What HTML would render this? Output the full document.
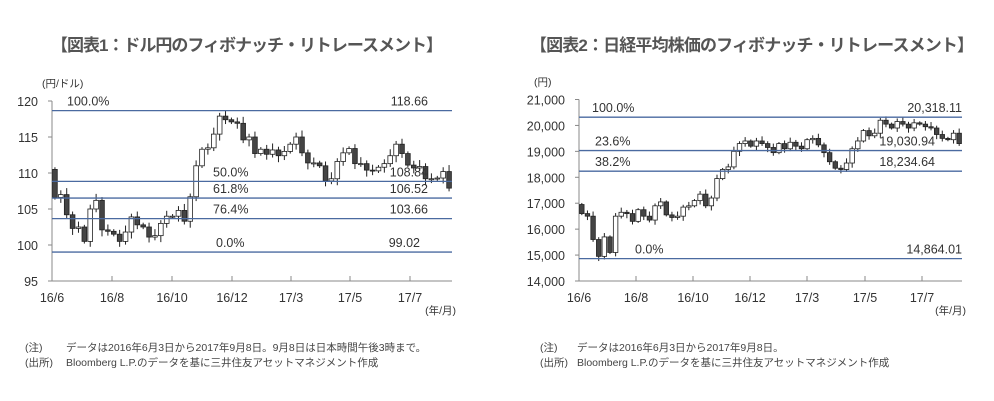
<!DOCTYPE html>
<html><head><meta charset="utf-8"><style>
body{margin:0;background:#fff;}
svg{display:block;font-family:"Liberation Sans","Noto Sans CJK JP",sans-serif;}
</style></head><body>
<svg id="s" width="994" height="401" xmlns="http://www.w3.org/2000/svg">
<rect width="994" height="401" fill="#fff"/>
<text x="247" y="51" font-size="17" font-weight="bold" fill="#555" text-anchor="middle" textLength="392">【図表1：ドル円のフィボナッチ・リトレースメント】</text>
<text x="752" y="51" font-size="17" font-weight="bold" fill="#555" text-anchor="middle" textLength="444">【図表2：日経平均株価のフィボナッチ・リトレースメント】</text>
<g font-size="10.5" fill="#444">
<text x="25" y="351">(注)</text><text x="66" y="351">データは2016年6月3日から2017年9月8日。9月8日は日本時間午後3時まで。</text>
<text x="25" y="366">(出所)</text><text x="66" y="366">Bloomberg L.P.のデータを基に三井住友アセットマネジメント作成</text>
<text x="540" y="351">(注)</text><text x="577" y="351">データは2016年6月3日から2017年9月8日。</text>
<text x="540" y="366">(出所)</text><text x="577" y="366">Bloomberg L.P.のデータを基に三井住友アセットマネジメント作成</text>
</g>
<g id="g"></g>
</svg>
<script>
var g=document.getElementById('g'),h='';
function chart(c){
 var x0=c.x0,x1=c.x1,Y=function(v){return c.yt+(c.vmax-v)/(c.vmax-c.vmin)*(c.yb-c.yt);};
 h+='<line x1="'+x0+'" y1="'+c.yt+'" x2="'+x0+'" y2="'+c.yb+'" stroke="#888" stroke-width="1"/>';
 h+='<line x1="'+x0+'" y1="'+c.yb+'" x2="'+x1+'" y2="'+c.yb+'" stroke="#888" stroke-width="1"/>';
 for(var v=c.vmin;v<=c.vmax;v+=c.step){var y=Y(v);h+='<line x1="'+(x0-4)+'" y1="'+y+'" x2="'+x0+'" y2="'+y+'" stroke="#888"/>';
  h+='<text x="'+(x0-14)+'" y="'+(y+5)+'" font-size="12.5" fill="#333" text-anchor="end">'+c.fmt(v)+'</text>';}
 c.ticks.forEach(function(t){h+='<line x1="'+t[0]+'" y1="'+c.yb+'" x2="'+t[0]+'" y2="'+(c.yb-5)+'" stroke="#888"/>';
  h+='<text x="'+t[0]+'" y="'+(c.yb+21)+'" font-size="12.5" fill="#333" text-anchor="middle">'+t[1]+'</text>';});
 h+='<line x1="'+x0+'" y1="'+c.yb+'" x2="'+x0+'" y2="'+(c.yb-5)+'" stroke="#888"/>';
 h+='<text x="'+x0+'" y="'+(c.yb+21)+'" font-size="12.5" fill="#333" text-anchor="middle">16/6</text>';
 h+='<text x="'+(x1+4)+'" y="'+(c.yb+33)+'" font-size="10.5" fill="#333" text-anchor="end">(年/月)</text>';
 h+='<text x="'+c.ux+'" y="'+(c.yt-14)+'" font-size="10.5" fill="#333">'+c.unit+'</text>';
 var n=c.d.length,w=(x1-x0)/n;
 for(var i=0;i<n;i++){var o=i?c.d[i-1]:c.o0,cl=c.d[i],hi=Math.max(o,cl)+c.wk*(0.5+((i*7)%5)/4),lo=Math.min(o,cl)-c.wk*(0.5+((i*3)%5)/4);
  var cx=x0+w*(i+0.5);
  h+='<line x1="'+cx+'" y1="'+Y(hi)+'" x2="'+cx+'" y2="'+Y(lo)+'" stroke="#222"/>';
  var top=Y(Math.max(o,cl)),bh=Math.max(1,Y(Math.min(o,cl))-top);
  h+='<rect x="'+(cx-w*0.4)+'" y="'+top+'" width="'+(w*0.8)+'" height="'+bh+'" fill="'+(cl<o?'#444':'#fff')+'" stroke="#222" stroke-width="0.8"/>';}
 c.fib.forEach(function(f){var y=Y(f[0]);h+='<line x1="'+x0+'" y1="'+y+'" x2="'+x1+'" y2="'+y+'" stroke="#4a6aa0" stroke-width="1.3"/>';
  h+='<text x="'+f[2]+'" y="'+(y-5)+'" font-size="12.5" fill="#333">'+f[1]+'</text>';
  h+='<text x="'+f[4]+'" y="'+(y-5)+'" font-size="12.5" fill="#333" text-anchor="end">'+f[3]+'</text>';});
}
chart({x0:52,x1:452,yt:101,yb:281,vmin:95,vmax:120,step:5,fmt:function(v){return v},ux:42,unit:'(円/ドル)',wk:0.6,o0:110.5,
 ticks:[[112,'16/8'],[172,'16/10'],[232,'16/12'],[291,'17/3'],[350,'17/5'],[410,'17/7']],
 d:[106.6,107,104.2,102.3,102.5,100.5,105,106.2,102.1,101.9,101.5,100.5,101.8,103.9,102.8,102.5,101.1,101.3,103,104,104,104.8,103.3,106.7,111,113.3,113.5,115.4,117.9,117.4,117.1,116.9,114.6,115.0,112.7,113.3,112.6,113.2,112.4,113.0,114.0,115.0,112.8,111.4,111.4,111.0,108.9,109.2,111.6,112.8,113.4,111.3,111.3,110.4,110.3,110.8,111.3,112.4,114.0,112.7,111.1,110.7,110.9,109.2,109.2,109.3,110.2,107.9],
 fib:[[118.66,'100.0%',67,'118.66',428],[108.84,'50.0%',213,'108.84',428],[106.52,'61.8%',213,'106.52',428],[103.66,'76.4%',213,'103.66',428],[99.02,'0.0%',216,'99.02',420]]});
chart({x0:579,x1:962,yt:99.5,yb:281,vmin:14000,vmax:21000,step:1000,fmt:function(v){return v.toLocaleString('en-US')},ux:534,unit:'(円)',wk:120,o0:16950,
 ticks:[[636,'16/8'],[693,'16/10'],[750,'16/12'],[807,'17/3'],[865,'17/5'],[922,'17/7']],
 d:[16600,16500,15600,14950,15700,15100,16500,16650,16600,16300,16750,16500,16350,16900,17050,16550,16450,16500,16850,16900,17100,17350,16900,17200,17950,18300,18400,19000,19300,19400,19200,19400,19300,19150,18950,19300,19100,19350,19200,19100,19450,19500,19250,18950,18600,18350,18300,18550,19100,19400,19800,19600,19700,20200,20050,19900,20150,20050,19900,20100,20050,19950,19900,19650,19500,19450,19700,19300],
 fib:[[20318.11,'100.0%',592,'20,318.11',962],[19030.94,'23.6%',595,'19,030.94',935],[18234.64,'38.2%',595,'18,234.64',935],[14864.01,'0.0%',635,'14,864.01',962]]});
g.innerHTML=h;
</script>
</body></html>
